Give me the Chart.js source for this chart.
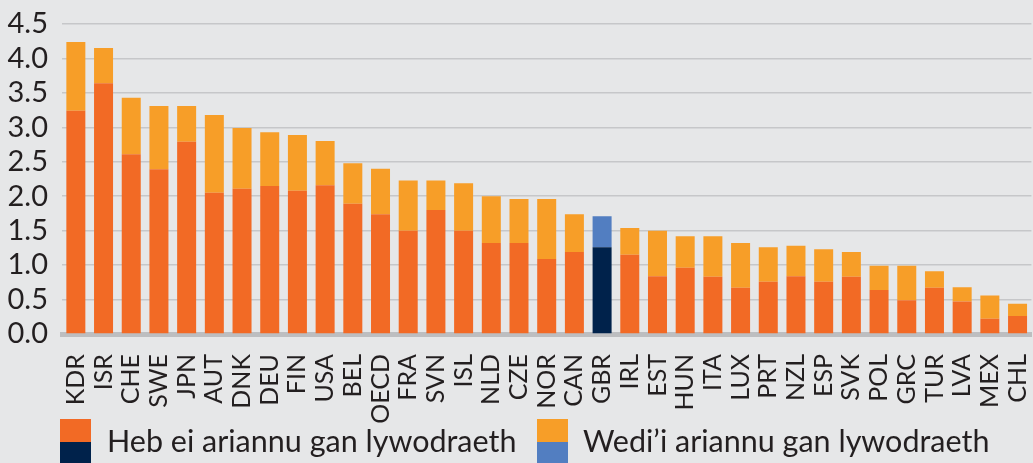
<!DOCTYPE html>
<html><head><meta charset="utf-8">
<script src="https://cdn.jsdelivr.net/npm/chart.js@4"></script>
<style>html,body{margin:0;padding:0;background:#E6E7E8;overflow:hidden}
#wrap{width:1033px;height:463px;position:relative}</style></head>
<body><div id="wrap"><canvas id="c" width="1033" height="463"></canvas></div>
<script>
const categories = ['KDR','ISR','CHE','SWE','JPN','AUT','DNK','DEU','FIN','USA','BEL','OECD','FRA','SVN','ISL','NLD','CZE','NOR','CAN','GBR','IRL','EST','HUN','ITA','LUX','PRT','NZL','ESP','SVK','POL','GRC','TUR','LVA','MEX','CHL'];
const notGovFunded = [3.24,3.64,2.61,2.39,2.79,2.05,2.11,2.15,2.08,2.16,1.89,1.74,1.50,1.80,1.50,1.32,1.32,1.09,1.19,1.26,1.15,0.84,0.96,0.83,0.67,0.76,0.84,0.76,0.83,0.64,0.49,0.67,0.47,0.22,0.26];
const govFunded    = [1.00,0.51,0.82,0.92,0.52,1.13,0.88,0.78,0.81,0.64,0.59,0.66,0.73,0.43,0.69,0.68,0.64,0.87,0.55,0.45,0.39,0.66,0.46,0.59,0.65,0.50,0.44,0.47,0.36,0.35,0.50,0.24,0.21,0.34,0.18];
const seriesNames = ['Heb ei ariannu gan lywodraeth','Wedi\u2019i ariannu gan lywodraeth'];
const yTickValues = [0,0.5,1,1.5,2,2.5,3,3.5,4,4.5];
const highlight = 'GBR';

const FONT = 'Lato';
const TEXT = '#231F20';
const C = {dark:'#F26A25', light:'#F79E28', navy:'#00224B', blue:'#527EC1'};

const bg = {id:'bg', beforeDraw(ch){const c=ch.ctx;c.save();c.fillStyle='#E6E7E8';c.fillRect(0,0,ch.width,ch.height);c.restore();}};
const legend = {id:'customLegend', afterDraw(ch){
  const c=ch.ctx; c.save();
  const items=[{x:60,tx:107,top:C.dark,bot:C.navy,label:ch.data.datasets[0].label},
               {x:537,tx:583,top:C.light,bot:C.blue,label:ch.data.datasets[1].label}];
  items.forEach(it=>{
    c.fillStyle=it.top; c.fillRect(it.x,419,31,23);
    c.fillStyle=it.bot; c.fillRect(it.x,442,31,24);
    c.fillStyle=TEXT; c.font='30.5px '+FONT; c.textBaseline='alphabetic'; c.textAlign='left';
    c.fillText(it.label,it.tx,452);
  });
  c.restore();
}};

new Chart(document.getElementById('c'),{
  type:'bar',
  data:{labels:categories,datasets:[
    {label:seriesNames[0],data:notGovFunded,backgroundColor:ctx=>categories[ctx.dataIndex]===highlight?C.navy:C.dark,borderWidth:0,categoryPercentage:1,barPercentage:0.686},
    {label:seriesNames[1],data:govFunded,backgroundColor:ctx=>categories[ctx.dataIndex]===highlight?C.blue:C.light,borderWidth:0,categoryPercentage:1,barPercentage:0.686}
  ]},
  options:{
    responsive:false, animation:false, devicePixelRatio:1,
    layout:{padding:{top:24,right:1.6,left:0,bottom:0}},
    plugins:{legend:{display:false},tooltip:{enabled:false}},
    scales:{
      x:{stacked:true,
         grid:{display:false,drawTicks:false},
         border:{display:true,color:'#BDBEC0',width:5},
         ticks:{minRotation:90,maxRotation:90,autoSkip:false,padding:20,color:TEXT,font:{family:FONT,size:25}},
         afterFit:s=>{s.height=129;s.paddingLeft=0;s.paddingRight=0;}},
      y:{stacked:true,min:0,max:4.5,
         afterBuildTicks:s=>{s.ticks=yTickValues.map(v=>({value:v}));},
         grid:{color:'#C6C7C9',lineWidth:1.6,drawTicks:false},
         border:{display:false},
         ticks:{autoSkip:false,padding:14,color:TEXT,font:{family:FONT,size:29},callback:v=>Number(v).toFixed(1)},
         afterFit:s=>{s.width=62;s.paddingTop=0;s.paddingBottom=0;}}
    }
  },
  plugins:[bg,legend]
});
</script></body></html>
